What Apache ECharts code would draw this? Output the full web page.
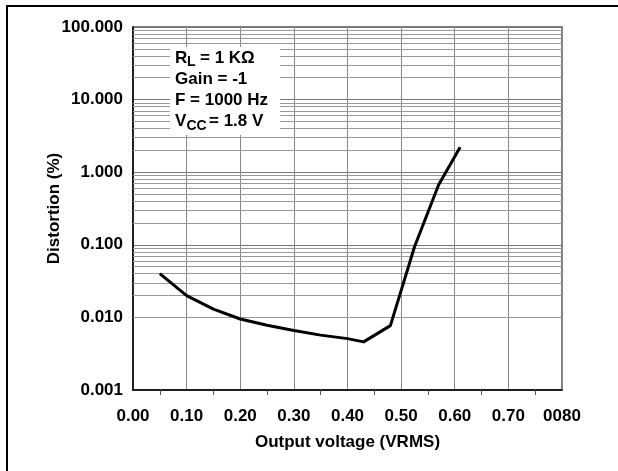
<!DOCTYPE html>
<html>
<head>
<meta charset="utf-8">
<script src="https://cdn.jsdelivr.net/npm/echarts@6/dist/echarts.min.js"></script>
<style>
  html, body { margin: 0; padding: 0; background: #fff; }
  #main { width: 618px; height: 471px; }
</style>
</head>
<body>
<div id="main"></div>
<script>
// output voltage (VRMS) vs distortion (%)
const voltage = [0.05, 0.10, 0.15, 0.20, 0.25, 0.30, 0.35, 0.40, 0.43, 0.48, 0.525, 0.57, 0.61]
const distortion = [0.040, 0.020, 0.013, 0.0095, 0.0078, 0.0066, 0.0057, 0.0051, 0.0046, 0.0077, 0.094, 0.67, 2.2]

const xLabels = ['0.00', '0.10', '0.20', '0.30', '0.40', '0.50', '0.60', '0.70', '0080']
const yLabels = ['0.001', '0.010', '0.100', '1.000', '10.000', '100.000']
const decades = [0.001, 0.01, 0.1, 1, 10]
const minorSteps = [2, 3, 4, 5, 6, 7, 8, 9]

const FONT = 'Liberation Sans, Arial, sans-serif'

function main() {
  var chart = echarts.init(document.getElementById('main'))

  let minorLines = []
  decades.forEach(d => minorSteps.forEach(m => minorLines.push({ yAxis: +(d * m).toPrecision(3) })))

  let txt = (x, y, s, size) => ({
    type: 'text', x: x, y: y, z: 101,
    style: { text: s, font: `bold ${size || 17}px ${FONT}`, fill: '#000', verticalAlign: 'middle' }
  })

  let option = {
    animation: false,
    backgroundColor: '#fff',
    grid: { left: 133, right: 56, top: 27, bottom: 81, show: true, borderColor: '#555', borderWidth: 1.5 },
    xAxis: {
      type: 'value', min: 0, max: 0.8, interval: 0.1,
      name: 'Output voltage (VRMS)', nameLocation: 'middle', nameGap: 44, nameMoveOverlap: false,
      nameTextStyle: { fontFamily: FONT, fontWeight: 'bold', fontSize: 17, color: '#000' },
      axisLine: { lineStyle: { color: '#000', width: 1.5 } },
      axisTick: { show: false },
      minorTick: { show: true, splitNumber: 2, length: 5, lineStyle: { color: '#555' } },
      axisLabel: {
        margin: 18, fontFamily: FONT, fontWeight: 'bold', fontSize: 17, color: '#000',
        formatter: (v) => xLabels[Math.round(v * 10)]
      },
      splitLine: { show: true, lineStyle: { color: '#888', width: 1 } }
    },
    yAxis: {
      type: 'log', logBase: 10, min: 0.001, max: 100,
      name: 'Distortion (%)', nameLocation: 'middle', nameGap: 70, nameMoveOverlap: false,
      nameTextStyle: { fontFamily: FONT, fontWeight: 'bold', fontSize: 17, color: '#000' },
      axisLine: { show: true, lineStyle: { color: '#000', width: 1.5 } },
      axisTick: { show: false },
      axisLabel: {
        margin: 10, fontFamily: FONT, fontWeight: 'bold', fontSize: 17, color: '#000',
        formatter: (v) => yLabels[Math.round(Math.log10(v)) + 3]
      },
      splitLine: { show: true, lineStyle: { color: '#777', width: 1.2 } }
    },
    series: [{
      type: 'line',
      data: voltage.map((v, i) => [v, distortion[i]]),
      showSymbol: false,
      lineStyle: { color: '#000', width: 3, join: 'round' },
      z: 5,
      markLine: {
        silent: true, symbol: 'none', label: { show: false },
        lineStyle: { color: '#999', type: 'solid', width: 1 },
        data: minorLines
      }
    }],
    graphic: [
      { type: 'line', z: 100, shape: { x1: 7, y1: 471, x2: 7, y2: 6 }, style: { stroke: '#000', lineWidth: 2 } },
      { type: 'line', z: 100, shape: { x1: 6, y1: 6, x2: 618, y2: 6 }, style: { stroke: '#000', lineWidth: 2 } },
      { type: 'rect', z: 100, shape: { x: 170, y: 47, width: 110, height: 88 }, style: { fill: '#fff' } },
      txt(175, 58, 'R'), txt(187, 62.5, 'L', 14), txt(200, 58, '= 1 KΩ'),
      txt(175, 79, 'Gain = -1'),
      txt(175, 100.5, 'F = 1000 Hz'),
      txt(175, 121.5, 'V'), txt(186.5, 126, 'CC', 14), txt(209, 121.5, '= 1.8 V')
    ]
  }

  chart.setOption(option)
}

main()
</script>
</body>
</html>
